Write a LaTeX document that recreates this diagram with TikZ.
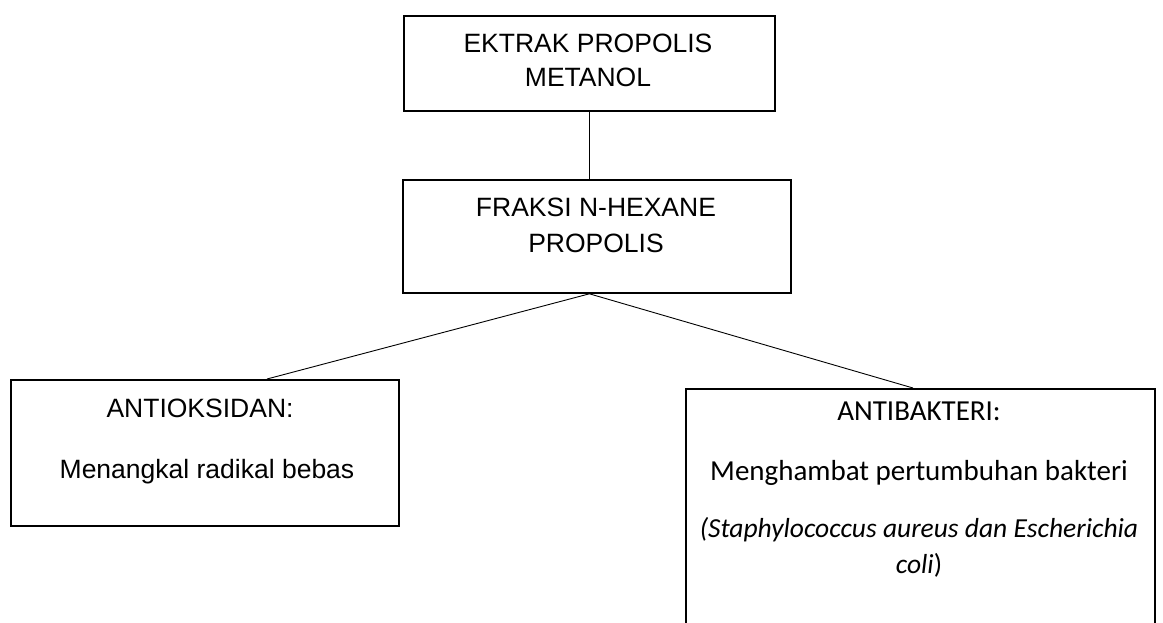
\documentclass[tikz,border=0pt]{standalone}
\usepackage{fontspec}
\newfontfamily\arialf{Liberation Sans}
\newfontfamily\calf{Carlito}
\begin{document}
\begin{tikzpicture}[x=1pt,y=-1pt,
  box/.style={draw, line width=1.8pt, inner sep=0pt, anchor=north west},
  conn/.style={line width=0.9pt},
  atxt/.style={font=\arialf\fontsize{26.5}{34}\selectfont, anchor=base, inner sep=0pt},
  ctxt/.style={font=\calf\fontsize{29}{35}\selectfont, anchor=base, inner sep=0pt},
  citxt/.style={font=\calf\itshape\fontsize{27.5}{34}\selectfont, anchor=base, inner sep=0pt}]
\useasboundingbox (0,0) rectangle (1163,622);
\clip (0,0) rectangle (1163,622);
% boxes
\node[box, minimum width=371pt, minimum height=95pt] (b1) at (403,15) {};
\node[box, minimum width=388pt, minimum height=113pt] (b2) at (402,179) {};
\node[box, minimum width=388pt, minimum height=146pt] (bl) at (10,379) {};
\node[box, minimum width=469pt, minimum height=260pt] (br) at (685,388) {};
% texts
\node[atxt] (t1a) at (588,52) {EKTRAK PROPOLIS};
\node[atxt] (t1b) at (588,86) {METANOL};
\node[atxt] (t2a) at (596,216) {FRAKSI N-HEXANE};
\node[atxt] (t2b) at (596,252) {PROPOLIS};
\node[atxt] (tla) at (200,417) {ANTIOKSIDAN:};
\node[atxt] (tlb) at (207,478) {Menangkal radikal bebas};
\node[ctxt] (tra) at (919,420) {ANTIBAKTERI:};
\node[ctxt] (trb) at (919,480) {Menghambat pertumbuhan bakteri};
\node[citxt] (trc) at (919,537) {(Staphylococcus aureus dan Escherichia};
\node[citxt] (trd) at (919,573) {coli\upshape)};
% connectors
\coordinate (j1) at (b1.south |- b2.north);
\coordinate (j2) at (b1.south |- b2.south);
\coordinate (lt) at (267,379);
\coordinate (rt) at (913,388);
\draw[conn] (b1.south) -- (j1);
\draw[conn] (j2) -- (lt);
\draw[conn] (j2) -- (rt);
\end{tikzpicture}
\end{document}
